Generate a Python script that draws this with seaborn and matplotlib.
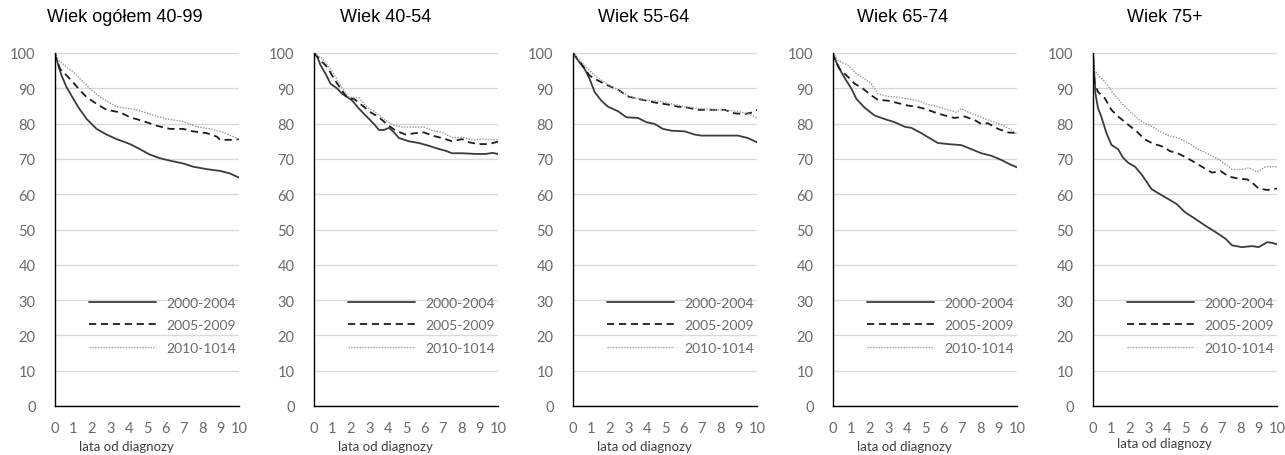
import matplotlib
matplotlib.use("Agg")
import matplotlib.pyplot as plt
import seaborn as sns
import pandas as pd

# --- data: survival (%) by years since diagnosis -------------------------
okresy = ["2000-2004", "2005-2009", "2010-1014"]
tytuly = ["Wiek ogółem 40-99", "Wiek 40-54", "Wiek 55-64", "Wiek 65-74", "Wiek 75+"]
lata_ticks = list(range(0, 11))
y_ticks = list(range(0, 101, 10))

ogolem_0004 = [(0, 100), (0.18, 96.5), (0.36, 93.6), (0.63, 90.3), (1.0, 87.0), (1.27, 84.6), (1.72, 81.3),
               (2.26, 78.5), (2.8, 76.9), (3.35, 75.6), (4.08, 74.2), (4.6, 72.8), (5.16, 71.2), (5.7, 70.2),
               (6.25, 69.5), (6.97, 68.7), (7.5, 67.8), (8.24, 67.1), (8.97, 66.6), (9.5, 65.9), (10, 64.7)]
ogolem_0509 = [(0, 100), (0.08, 98.5), (0.27, 95.5), (0.54, 94.1), (0.9, 92.2), (1.36, 89.4), (1.72, 87.5),
               (2.26, 85.6), (2.8, 83.9), (3.53, 83.2), (4.08, 81.8), (4.8, 80.7), (5.52, 79.4), (6.25, 78.5),
               (6.97, 78.5), (7.5, 77.8), (8.24, 77.3), (8.8, 76.3), (8.97, 75.4), (9.7, 75.4), (10, 75.6)]
ogolem_1014 = [(0, 100), (0.18, 97.9), (0.63, 96.0), (1.0, 94.6), (1.36, 92.7), (1.9, 89.9), (2.45, 87.5),
               (2.8, 86.4), (3.35, 84.8), (4.44, 83.9), (5.16, 82.7), (6.07, 81.3), (6.97, 80.6), (7.7, 79.1),
               (8.42, 78.5), (9.15, 77.5), (10, 75.6)]

w4054_0004 = [(0, 100), (0.18, 98.9), (0.36, 96.5), (0.63, 94.1), (0.9, 91.3), (1.27, 89.9), (1.54, 88.4),
              (1.81, 87.5), (2.08, 86.5), (2.45, 84.2), (2.9, 81.8), (3.26, 79.9), (3.53, 78.2), (3.8, 78.2),
              (4.08, 78.8), (4.35, 77.5), (4.62, 75.9), (5.16, 75.0), (5.7, 74.5), (6.25, 73.7), (6.79, 72.8),
              (7.16, 72.3), (7.5, 71.6), (8.06, 71.6), (8.79, 71.4), (9.33, 71.4), (9.7, 71.7), (10, 71.4)]
w4054_0509 = [(0, 100), (0.36, 97.9), (0.72, 96.0), (1.09, 92.7), (1.45, 89.9), (1.81, 87.3), (2.17, 87.0),
              (2.63, 85.1), (3.08, 83.2), (3.53, 81.8), (3.99, 79.7), (4.44, 78.0), (4.98, 76.9), (5.52, 77.3),
              (5.98, 77.5), (6.43, 76.6), (6.97, 75.9), (7.5, 75.0), (8.06, 75.6), (8.42, 74.7), (8.97, 74.2),
              (9.51, 74.2), (10, 74.9)]
w4054_1014 = [(0, 100), (0.45, 98.4), (0.82, 96.0), (1.18, 93.2), (1.54, 89.9), (1.9, 87.5), (2.45, 87.3),
              (2.9, 84.6), (3.35, 83.2), (3.8, 81.3), (4.26, 79.7), (4.8, 79.0), (5.52, 79.0), (5.98, 79.0),
              (6.43, 78.0), (6.97, 77.5), (7.5, 76.1), (8.06, 76.1), (8.6, 75.4), (9.15, 75.6), (10, 75.4)]

w5564_0004 = [(0, 100), (0.27, 97.9), (0.63, 95.5), (0.9, 92.7), (1.18, 88.9), (1.54, 86.5), (1.9, 84.8),
              (2.45, 83.5), (2.9, 81.8), (3.53, 81.6), (3.99, 80.4), (4.44, 79.9), (4.89, 78.5), (5.34, 78.0),
              (6.07, 77.8), (6.61, 76.9), (6.97, 76.6), (7.88, 76.6), (8.97, 76.6), (9.51, 75.9), (10, 74.7)]
w5564_0509 = [(0, 100), (0.45, 97.0), (0.9, 93.6), (1.36, 92.2), (1.9, 90.8), (2.45, 89.6), (2.99, 87.7),
              (3.53, 87.0), (4.08, 86.4), (4.62, 85.8), (5.16, 85.4), (5.7, 84.8), (6.25, 84.5), (6.79, 83.9),
              (7.34, 83.9), (8.24, 83.9), (8.79, 82.9), (9.33, 82.7), (9.78, 83.2), (10, 83.9)]
w5564_1014 = [(0, 100), (0.45, 97.4), (1.18, 93.6), (1.9, 91.1), (2.63, 88.9), (3.17, 87.5), (3.9, 86.7),
              (4.62, 86.4), (5.34, 85.6), (6.07, 84.8), (6.97, 84.2), (7.88, 83.9), (8.6, 83.7), (9.15, 83.2),
              (9.6, 82.7), (10, 81.6)]

w6574_0004 = [(0, 100), (0.18, 97.4), (0.45, 94.6), (0.72, 92.2), (1.0, 89.9), (1.27, 87.0), (1.72, 84.5),
              (2.26, 82.3), (2.8, 81.3), (3.35, 80.4), (3.9, 79.1), (4.26, 78.8), (4.8, 77.3), (5.34, 75.6),
              (5.7, 74.5), (6.25, 74.2), (6.97, 73.9), (7.5, 72.8), (8.06, 71.6), (8.6, 70.9), (9.15, 69.7),
              (9.6, 68.5), (10, 67.6)]
w6574_0509 = [(0, 100), (0.08, 98.0), (0.36, 95.5), (0.82, 93.2), (1.18, 91.3), (1.63, 89.9), (2.08, 88.0),
              (2.45, 86.7), (2.99, 86.5), (3.53, 85.8), (4.08, 85.1), (4.53, 84.8), (4.98, 84.2), (5.52, 83.2),
              (6.07, 82.3), (6.61, 81.6), (7.16, 82.0), (7.7, 81.0), (8.06, 79.9), (8.42, 80.1), (8.97, 78.5),
              (9.51, 77.5), (10, 77.3)]
w6574_1014 = [(0, 100), (0.27, 97.9), (0.82, 96.5), (1.27, 94.1), (1.72, 92.7), (2.08, 91.3), (2.45, 88.4),
              (2.99, 87.7), (3.53, 87.5), (4.08, 87.0), (4.62, 86.5), (5.16, 85.4), (5.7, 84.8), (6.25, 83.9),
              (6.7, 83.2), (6.97, 84.2), (7.5, 82.9), (8.06, 81.8), (8.6, 80.7), (9.15, 79.7), (9.6, 78.5),
              (10, 77.1)]

w75_0004 = [(0, 100), (0.05, 96.0), (0.13, 88.6), (0.27, 84.4), (0.45, 82.0), (0.73, 77.3), (1.0, 74.0),
            (1.37, 72.7), (1.64, 70.3), (1.91, 68.9), (2.28, 67.8), (2.64, 65.6), (3.19, 61.4), (3.64, 60.0),
            (4.1, 58.6), (4.55, 57.2), (5.0, 54.9), (5.56, 53.0), (6.1, 51.1), (6.65, 49.3), (7.2, 47.4),
            (7.56, 45.5), (8.1, 45.0), (8.65, 45.3), (9.0, 45.0), (9.47, 46.4), (9.74, 46.2), (10, 45.8)]
w75_0509 = [(0, 100), (0.03, 96.0), (0.09, 91.4), (0.27, 89.0), (0.64, 87.2), (1.0, 83.9), (1.37, 82.0),
            (1.91, 79.7), (2.37, 77.8), (2.82, 75.5), (3.28, 74.3), (3.73, 73.6), (4.19, 72.2), (4.64, 71.5),
            (5.1, 70.3), (5.56, 68.9), (6.01, 67.5), (6.47, 66.1), (6.92, 66.6), (7.38, 65.0), (7.92, 64.4),
            (8.38, 64.2), (8.65, 63.3), (9.0, 61.6), (9.47, 61.2), (10, 61.6)]
w75_1014 = [(0, 100), (0.09, 95.1), (0.36, 93.3), (0.73, 91.4), (1.09, 88.6), (1.55, 85.8), (2.09, 83.0),
            (2.64, 80.6), (3.19, 79.2), (3.64, 77.8), (4.1, 76.6), (4.64, 75.9), (5.19, 74.5), (5.74, 72.7),
            (6.28, 71.3), (6.83, 69.9), (7.2, 68.4), (7.56, 67.0), (8.1, 67.0), (8.47, 67.5), (8.92, 66.3),
            (9.38, 67.8), (10, 67.8)]

panele = [
    (ogolem_0004, ogolem_0509, ogolem_1014),
    (w4054_0004, w4054_0509, w4054_1014),
    (w5564_0004, w5564_0509, w5564_1014),
    (w6574_0004, w6574_0509, w6574_1014),
    (w75_0004, w75_0509, w75_1014),
]

# --- long table ---------------------------------------------------------
rows = []
for p, serie in enumerate(panele):
    for okres, punkty in zip(okresy, serie):
        for t, v in punkty:
            rows.append({"panel": p, "okres": okres, "lata": t, "przezycie": v})
df = pd.DataFrame(rows)

# --- style --------------------------------------------------------------
sns.set_style("white")
plt.rcParams["font.family"] = ["Lato", "DejaVu Sans"]

styl = {
    "2000-2004": dict(color="#3c3c3c", linewidth=1.3, ls="-"),
    "2005-2009": dict(color="#1e1e1e", linewidth=1.3, ls=(0, (4, 2.6))),
    "2010-1014": dict(color="#9a9a9a", linewidth=1.0, ls=(0, (1, 1))),
}
szary = "#6a6a6a"

W, H = 1285, 456
fig = plt.figure(figsize=(W / 100, H / 100), dpi=100)

lewe = [55, 314, 573, 833, 1093]
tytul_x = [47, 340, 598, 857, 1127]
szer = 184
gora, dol = 54, 407

for p in range(5):
    ax = fig.add_axes([lewe[p] / W, 1 - dol / H, szer / W, (dol - gora) / H])
    sub = df[df["panel"] == p]
    for okres in okresy:
        s = styl[okres]
        sns.lineplot(data=sub[sub["okres"] == okres], x="lata", y="przezycie", ax=ax,
                     color=s["color"], linewidth=s["linewidth"], label=okres,
                     estimator=None, sort=False)
        ax.lines[-1].set_linestyle(s["ls"])

    ax.set_xlim(0, 10)
    ax.set_ylim(0, 100)
    ax.set_xticks(lata_ticks)
    ax.set_yticks(y_ticks)
    ax.grid(axis="y", color="#d9d9d9", linewidth=1.0)
    ax.grid(axis="x", visible=False)
    ax.set_axisbelow(True)
    for side in ["top", "right"]:
        ax.spines[side].set_visible(False)
    for side in ["left", "bottom"]:
        ax.spines[side].set_color("#000000")
        ax.spines[side].set_linewidth(1.0)

    ax.tick_params(axis="x", direction="in", length=4, width=1, color="#000000",
                   pad=11, labelsize=10.5, labelcolor=szary)
    ax.tick_params(axis="y", length=0, pad=14, labelsize=10.5, labelcolor=szary)

    ax.set_ylabel("")
    ax.set_xlabel("lata od diagnozy", fontsize=9.5, color="#404040")
    ax.xaxis.set_label_coords(0.39, -0.097 if p < 4 else -0.088)
    ax.xaxis.label.set_verticalalignment("top")

    ax.legend(loc="upper left", bbox_to_anchor=(0.187, 0.309), frameon=False,
              handlelength=4.8, handletextpad=0.7, labelspacing=0.75,
              borderpad=0, borderaxespad=0, fontsize=10, labelcolor=szary)

    fig.text(tytul_x[p] / W, 1 - 18 / H, tytuly[p], ha="left", va="center",
             fontsize=13, color="#000000", family=["Liberation Sans", "DejaVu Sans"])

fig.savefig("out.png", dpi=100, facecolor="white")
